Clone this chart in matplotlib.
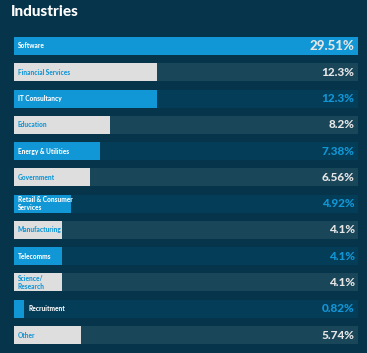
import matplotlib
matplotlib.use("Agg")
import matplotlib.pyplot as plt

categories = ["Software", "Financial Services", "IT Consultancy", "Education",
              "Energy & Utilities", "Government", "Retail & Consumer\nServices",
              "Manufacturing", "Telecomms", "Science/\nResearch", "Recruitment", "Other"]
values = [29.51, 12.3, 12.3, 8.2, 7.38, 6.56, 4.92, 4.1, 4.1, 4.1, 0.82, 5.74]
value_labels = ["29.51%", "12.3%", "12.3%", "8.2%", "7.38%", "6.56%", "4.92%",
                "4.1%", "4.1%", "4.1%", "0.82%", "5.74%"]
bar_style = ["blue", "gray", "blue", "gray", "blue", "gray", "blue", "gray",
             "blue", "gray", "blue", "gray"]

BG = "#06344b"
BLUE = "#1196d6"
GRAY = "#dedede"
TRACK_BLUE = "#043d58"
TRACK_GRAY = "#1a4659"
FONT = ["Lato", "DejaVu Sans"]

W, H = 367, 353
fig = plt.figure(figsize=(W / 100, H / 100), dpi=100, facecolor=BG)
ax = fig.add_axes([14 / W, 1 - 344 / H, (358 - 14) / W, (344 - 37) / H])
ax.set_facecolor(BG)
n = len(categories)
bh = 0.685
xmax = max(values)
ax.set_xlim(0, xmax)
ax.set_ylim(n - 1 + bh / 2, -bh / 2)
ax.axis("off")

for i, (cat, v, lab, st) in enumerate(zip(categories, values, value_labels, bar_style)):
    track = TRACK_BLUE if st == "blue" else TRACK_GRAY
    barc = BLUE if st == "blue" else GRAY
    ax.barh(i, xmax, height=bh, color=track, left=0, linewidth=0)
    ax.barh(i, v, height=bh, color=barc, left=0, linewidth=0)
    txtc = "white" if st == "blue" else BLUE
    if v / xmax < 0.1:
        ax.text(v + xmax * 0.015, i, cat, color="white", fontsize=4.7, family=FONT,
                fontweight=900, va="center", ha="left", linespacing=1.1)
    else:
        ax.text(xmax * 0.011, i, cat, color=txtc, fontsize=4.7, family=FONT,
                fontweight=900, va="center", ha="left", linespacing=1.1)
    if i == 0:
        vc = "#e6e6e6"
    else:
        vc = BLUE if st == "blue" else "#e6e6e6"
    ax.text(xmax * 0.99, i, lab, color=vc, fontsize=9.5 if i == 0 else 8.5, family=FONT,
            fontweight=900, va="center", ha="right")

fig.text(11 / W, 1 - 12 / H, "Industries", color="white", fontsize=11, family=FONT,
         fontweight=900, va="center", ha="left")

fig.savefig("out.png", dpi=100, facecolor=BG)
